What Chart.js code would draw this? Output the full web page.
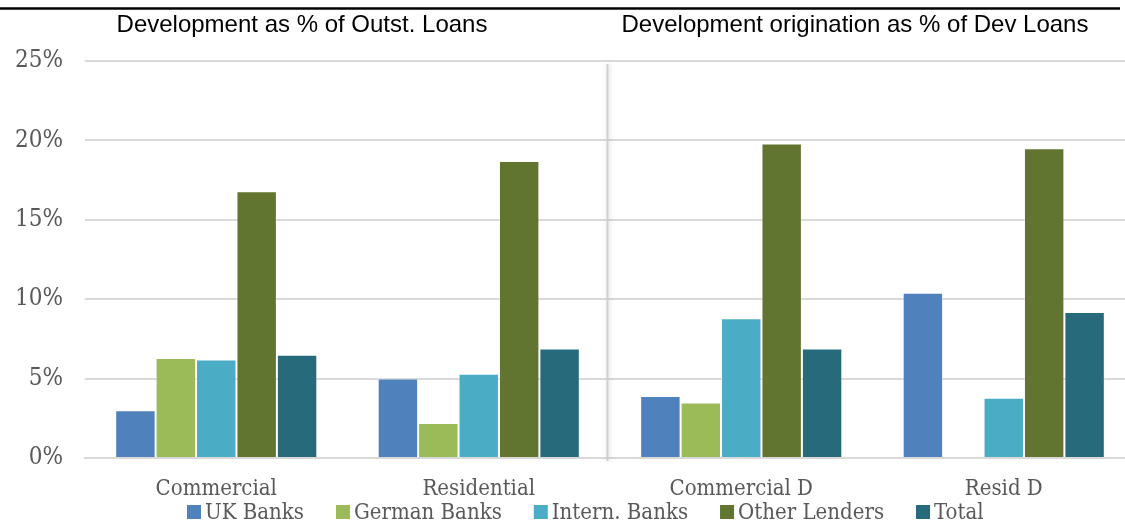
<!DOCTYPE html>
<html>
<head>
<meta charset="utf-8">
<script src="https://cdn.jsdelivr.net/npm/chart.js@4/dist/chart.umd.min.js"></script>
<style>
  html, body { margin: 0; padding: 0; background: #fff; overflow: hidden; }
  #wrap { width: 1140px; height: 523px; }
</style>
</head>
<body>
<div id="wrap"><canvas id="c" width="1140" height="523"></canvas></div>
<script>
// Loan book development exposure by lender type
const categories = ['Commercial', 'Residential', 'Commercial D', 'Resid D'];
const seriesNames = ['UK Banks', 'German Banks', 'Intern. Banks', 'Other Lenders', 'Total'];
const ukBanks = [3.0, 5.0, 3.9, 10.4];
const germanBanks = [6.3, 2.2, 3.5, null];
const internBanks = [6.2, 5.3, 8.8, 3.8];
const otherLenders = [16.8, 18.7, 19.8, 19.5];
const total = [6.5, 6.9, 6.9, 9.2];
const yTicks = [0, 5, 10, 15, 20, 25];
const panelTitles = ['Development as % of Outst. Loans', 'Development origination as % of Dev Loans'];

const colors = ['#4F81BD', '#9BBB59', '#4BACC6', '#617530', '#276A7C'];
const seriesValues = [ukBanks, germanBanks, internBanks, otherLenders, total];

const serif = "'DejaVu Serif Condensed', 'DejaVu Serif', serif";
const textGrey = '#595959';

// Header rule, panel titles, divider and the legend row
const decorations = {
  id: 'decorations',
  afterDraw(chart) {
    const ctx = chart.ctx;
    const x = chart.scales.x, y = chart.scales.y;
    ctx.save();
    // top rule
    ctx.strokeStyle = '#000';
    ctx.lineWidth = 2.5;
    ctx.beginPath();
    ctx.moveTo(0, 8.5);
    ctx.lineTo(1120, 8.5);
    ctx.stroke();
    // titles
    ctx.fillStyle = '#000';
    ctx.font = "24px 'Liberation Sans', Arial, sans-serif";
    ctx.textAlign = 'center';
    ctx.textBaseline = 'middle';
    ctx.fillText(panelTitles[0], 302, 25);
    ctx.fillText(panelTitles[1], 855, 25);
    // legend row
    ctx.font = "22px " + serif;
    ctx.textAlign = 'left';
    let lx = 187;
    const ly = 512;
    chart.data.datasets.forEach(ds => {
      ctx.fillStyle = ds.backgroundColor;
      ctx.fillRect(lx, ly - 7, 14, 14);
      ctx.fillStyle = textGrey;
      ctx.fillText(ds.label, lx + 18, ly + 1);
      lx += 18 + ctx.measureText(ds.label).width + 32;
    });
    // divider between the two panels
    const dx = Math.round((x.getPixelForValue(1) + x.getPixelForValue(2)) / 2) - 3 + 0.5;
    ctx.shadowColor = 'rgba(0,0,0,0.18)';
    ctx.shadowBlur = 5;
    ctx.shadowOffsetX = 1;
    ctx.strokeStyle = '#cfcfcf';
    ctx.lineWidth = 2;
    ctx.beginPath();
    ctx.moveTo(dx, y.top + 3);
    ctx.lineTo(dx, y.bottom + 3);
    ctx.stroke();
    ctx.restore();
  }
};

new Chart(document.getElementById('c'), {
  type: 'bar',
  data: {
    labels: categories,
    datasets: seriesNames.map((name, i) => ({
      label: name,
      data: seriesValues[i],
      backgroundColor: colors[i],
      borderColor: 'rgba(255,255,255,0.45)',
      borderWidth: 1,
      barPercentage: 1,
      categoryPercentage: 0.77
    }))
  },
  options: {
    responsive: false,
    animation: false,
    layout: { padding: { top: 61, right: 5, left: 0, bottom: 0 } },
    scales: {
      x: {
        grid: { display: false },
        border: { color: '#d9d9d9', width: 2 },
        afterFit: s => { s.height = 65; },
        ticks: { font: { family: serif, size: 22 }, color: textGrey, padding: 10 }
      },
      y: {
        min: 0,
        max: 25,
        afterBuildTicks: s => { s.ticks = yTicks.map(v => ({ value: v })); },
        afterFit: s => { s.width = 85; },
        ticks: { font: { family: serif, size: 24 }, color: textGrey, padding: 22, callback: v => v + '%' },
        grid: { color: '#d9d9d9', lineWidth: 2, drawTicks: false },
        border: { display: false }
      }
    },
    plugins: {
      legend: { display: false },
      tooltip: { enabled: false }
    }
  },
  plugins: [decorations]
});
</script>
</body>
</html>
